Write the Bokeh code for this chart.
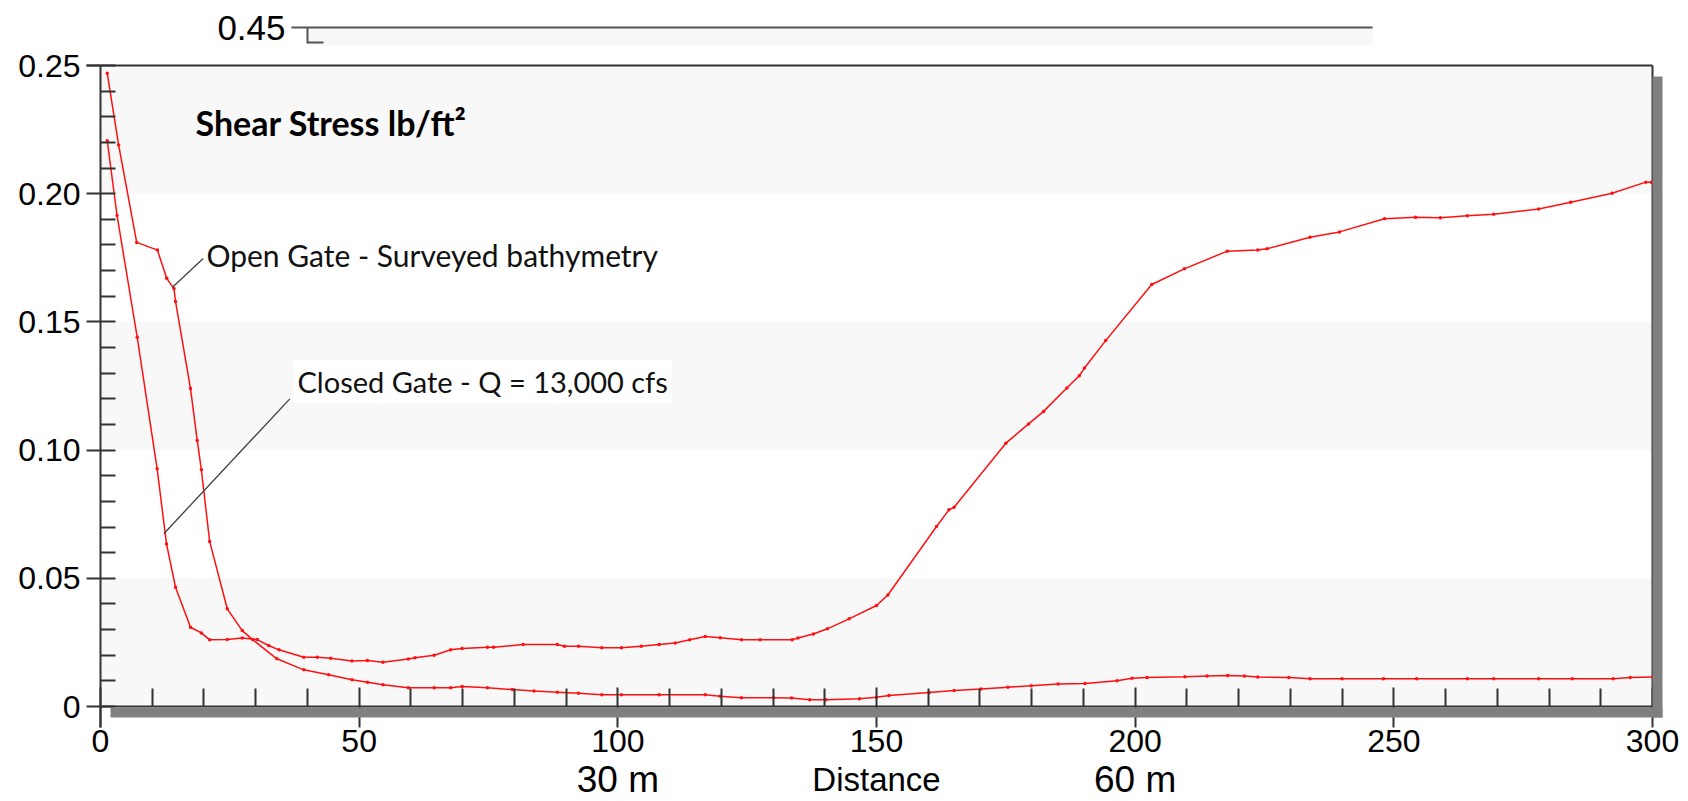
from bokeh.plotting import figure
from bokeh.models import FixedTicker, Label, BoxAnnotation, Range1d, LinearAxis
from bokeh.embed import file_html
from bokeh.resources import INLINE

# ---------------- data ----------------
OPEN_X = [1.3, 3.5, 7.0, 11.0, 12.8, 14.2, 14.5, 17.4, 18.7, 19.5, 21.1, 24.5, 27.4, 29.4,
          34.1, 39.3, 44.1, 48.6, 51.6, 54.6, 59.5, 64.5, 67.7, 69.9, 74.8, 79.6, 83.8,
          88.3, 92.4, 96.9, 100.7, 108.0, 116.9, 119.8, 123.9, 130.1, 133.6, 137.1, 140.2,
          146.7, 150.0, 152.4, 160.2, 165.0, 170.2, 175.4, 179.9, 185.1, 190.3, 196.5,
          199.4, 202.3, 209.6, 213.9, 217.9, 221.1, 223.7, 229.7, 233.8, 240.0, 248.0,
          254.4, 264.2, 269.3, 278.0, 284.5, 292.4, 295.7, 300.0]
OPEN_Y = [0.247, 0.219, 0.181, 0.178, 0.167, 0.163, 0.158, 0.124, 0.1037, 0.0923, 0.0644,
          0.0381, 0.0296, 0.0261, 0.0186, 0.0143, 0.0124, 0.0104, 0.0095, 0.0085, 0.0073,
          0.0073, 0.0073, 0.0078, 0.0073, 0.0066, 0.0060, 0.0056, 0.0052, 0.0046, 0.0046,
          0.0046, 0.0046, 0.0040, 0.0034, 0.0034, 0.0033, 0.0026, 0.0026, 0.0030, 0.0036,
          0.0043, 0.0055, 0.0062, 0.0068, 0.0075, 0.0081, 0.0088, 0.0090, 0.0100, 0.0110,
          0.0113, 0.0116, 0.0119, 0.0121, 0.0119, 0.0115, 0.0113, 0.0108, 0.0108, 0.0108,
          0.0108, 0.0108, 0.0108, 0.0108, 0.0108, 0.0108, 0.0113, 0.0115]

CLOSED_X = [1.3, 3.2, 7.1, 10.95, 12.76, 14.5, 17.4, 19.5, 21.1, 24.5, 27.4, 30.3, 32.5,
            34.5, 39.3, 41.9, 44.5, 48.6, 51.6, 54.6, 59.5, 60.8, 64.5, 67.7, 69.9, 74.8,
            76.0, 81.7, 88.3, 89.7, 92.4, 96.9, 100.7, 104.5, 108.0, 111.1, 113.9, 116.9,
            119.8, 123.9, 127.5, 133.7, 134.8, 137.8, 140.5, 144.7, 150.0, 152.2, 161.6,
            164.0, 165.0, 175.0, 179.4, 182.3, 186.8, 189.2, 190.2, 194.3, 203.2, 209.5,
            217.8, 223.7, 225.5, 233.8, 239.5, 248.2, 254.2, 259.0, 264.2, 269.3, 278.0,
            284.2, 292.2, 298.7, 299.8]
CLOSED_Y = [0.2207, 0.1915, 0.144, 0.0927, 0.0634, 0.0465, 0.0309, 0.0287, 0.0260, 0.0261,
            0.0267, 0.0261, 0.0238, 0.0221, 0.0192, 0.0192, 0.0188, 0.0177, 0.0179, 0.0173,
            0.0185, 0.0190, 0.0200, 0.0221, 0.0226, 0.0231, 0.0231, 0.0242, 0.0242, 0.0235,
            0.0235, 0.0229, 0.0229, 0.0235, 0.0242, 0.0248, 0.0260, 0.0273, 0.0268, 0.0260,
            0.0260, 0.0260, 0.0267, 0.0283, 0.0303, 0.0342, 0.0394, 0.0435, 0.0702, 0.0767,
            0.0777, 0.1027, 0.1102, 0.1151, 0.1242, 0.1290, 0.1320, 0.1427, 0.1646, 0.1707,
            0.1776, 0.1780, 0.1785, 0.1830, 0.1851, 0.1902, 0.1908, 0.1906, 0.1914, 0.1920,
            0.1940, 0.1967, 0.2002, 0.2045, 0.2045]

X_TICKS = [0, 50, 100, 150, 200, 250, 300]
X_TICK_LABELS = ["0", "50", "100", "150", "200", "250", "300"]
X_MINOR = [v for v in range(10, 300, 10) if v % 50]
Y_TICKS = [0, 0.05, 0.10, 0.15, 0.20, 0.25]
Y_TICK_LABELS = ["0", "0.05", "0.10", "0.15", "0.20", "0.25"]
Y_MINOR = [round(i * 0.01, 2) for i in range(1, 25) if i % 5]

TOP_TICK_LABEL = "0.45"

TITLE = "Shear Stress lb/ft²"
OPEN_LABEL = "Open Gate - Surveyed bathymetry"
CLOSED_LABEL = "Closed Gate - Q = 13,000 cfs"
OPEN_LEADER_X = [19.85, 13.86]
OPEN_LEADER_Y = [0.1747, 0.1634]
CLOSED_LEADER_X = [36.6, 12.24]
CLOSED_LEADER_Y = [0.1200, 0.0674]
BOTTOM_LABEL_X = [100, 150, 200]
BOTTOM_LABELS = ["30 m", "Distance", "60 m"]

X_MAX = 300
Y_MAX = 0.25

# ---------------- geometry ----------------
W, H = 1688, 801
LEFT = 100                 # pixel column of x = 0
ZERO_ROW = 706             # pixel row of y = 0
PX_X = 1552 / 300.0        # pixels per x unit
PX_Y = 641 / 0.25          # pixels per y unit


def dx(px):                # pixel offset -> x units
    return px / PX_X


def dy(px):                # pixel offset -> y units
    return px / PX_Y


def row(py):               # pixel row -> y value
    return (ZERO_ROW - py) / PX_Y


def col(px):               # pixel column -> x value
    return (px - LEFT) / PX_X


RED = "#ff1010"
AX = "#333333"
FONT = "Liberation Sans"

p = figure(width=W, height=H, title=None, output_backend="svg", toolbar_location=None,
           x_range=Range1d(col(0), col(W)), y_range=Range1d(row(H), row(0)),
           x_axis_location=None, y_axis_location=None,
           min_border_left=0, min_border_right=0, min_border_top=0, min_border_bottom=0)
p.outline_line_color = None
p.background_fill_color = "white"
p.border_fill_color = "white"
p.grid.visible = False

# alternating background bands
for lo, hi in zip(Y_TICKS[0::2], Y_TICKS[1::2]):
    p.add_layout(BoxAnnotation(left=0, right=X_MAX, bottom=lo, top=hi, fill_color="#f8f8f8",
                               fill_alpha=1, line_color=None, level="underlay"))

# ---- axes ----
xa = LinearAxis(fixed_location=0, bounds=(0, X_MAX))
p.add_layout(xa, "below")
xa.ticker = FixedTicker(ticks=X_TICKS, minor_ticks=X_MINOR)
xa.major_label_overrides = dict(zip(X_TICKS, X_TICK_LABELS))
xa.axis_line_color = AX
xa.axis_line_width = 2
xa.major_tick_in = 19
xa.major_tick_out = 21
xa.major_tick_line_color = AX
xa.major_tick_line_width = 2
xa.minor_tick_in = 18
xa.minor_tick_out = 0
xa.minor_tick_line_color = AX
xa.minor_tick_line_width = 2
xa.major_label_text_font = FONT
xa.major_label_text_font_size = "32px"
xa.major_label_text_color = "black"
xa.major_label_standoff = 2

yb = LinearAxis(fixed_location=0, bounds=(-dy(21), Y_MAX))
p.add_layout(yb, "left")
yb.ticker = FixedTicker(ticks=Y_TICKS, minor_ticks=Y_MINOR)
yb.major_label_overrides = dict(zip(Y_TICKS, Y_TICK_LABELS))
yb.axis_line_color = AX
yb.axis_line_width = 2
yb.major_tick_in = 15
yb.major_tick_out = 14
yb.major_tick_line_color = AX
yb.major_tick_line_width = 2
yb.minor_tick_in = 15
yb.minor_tick_out = 0
yb.minor_tick_line_color = AX
yb.minor_tick_line_width = 2
yb.major_label_text_font = FONT
yb.major_label_text_font_size = "32px"
yb.major_label_text_color = "black"
yb.major_label_standoff = 6

# ---- cut-off fragment of the panel above (its 0.45 tick) ----
frag_y = row(27)
fx0 = col(307)
fx1 = col(1372)
p.add_layout(BoxAnnotation(left=fx0, right=fx1, top=frag_y, bottom=frag_y - dy(18),
                           fill_color="#f8f8f8", fill_alpha=1, line_color=None, level="underlay"))
p.segment(x0=[fx0 - dx(16), fx0, fx0], y0=[frag_y, frag_y, frag_y - dy(15)],
          x1=[fx1, fx0, fx0 + dx(16)], y1=[frag_y, frag_y - dy(16), frag_y - dy(15)],
          line_color="#555555", line_width=2)
p.add_layout(Label(x=fx0 - dx(22), y=frag_y, text=TOP_TICK_LABEL, text_font=FONT,
                   text_font_size="35px", text_color="black", text_align="right",
                   text_baseline="middle"))

# ---- drop shadows ----
p.add_layout(BoxAnnotation(left=X_MAX, right=X_MAX + dx(10), top=Y_MAX - dy(11),
                           bottom=-dy(11), fill_color="#808080", fill_alpha=1, line_color=None))
p.add_layout(BoxAnnotation(left=dx(10), right=X_MAX + dx(10), top=-dy(1), bottom=-dy(11),
                           fill_color="#808080", fill_alpha=1, line_color=None))

# top and right borders of the frame
p.segment(x0=[0 - dx(14), X_MAX], y0=[Y_MAX, 0], x1=[X_MAX, X_MAX], y1=[Y_MAX, Y_MAX],
          line_color=AX, line_width=2)

# ---- curves ----
p.line(OPEN_X, OPEN_Y, line_color=RED, line_width=1.5)
p.scatter(OPEN_X, OPEN_Y, size=3.5, fill_color=RED, line_color=None)
p.line(CLOSED_X, CLOSED_Y, line_color=RED, line_width=1.5)
p.scatter(CLOSED_X, CLOSED_Y, size=3.5, fill_color=RED, line_color=None)

# leader lines
p.line(OPEN_LEADER_X, OPEN_LEADER_Y, line_color="#404040", line_width=1.3)
p.line(CLOSED_LEADER_X, CLOSED_LEADER_Y, line_color="#404040", line_width=1.3)

# ---- texts ----
p.add_layout(Label(x=col(195), y=row(122), text=TITLE, text_font="Lato",
                   text_font_style="bold", text_font_size="34px", text_color="black",
                   text_baseline="alphabetic"))
p.add_layout(Label(x=col(206), y=row(254), text=OPEN_LABEL, text_font="Lato",
                   text_font_size="30px", text_color="#111111", text_baseline="alphabetic"))
p.add_layout(Label(x=col(293), y=row(381), text=CLOSED_LABEL, text_font="Lato",
                   text_font_size="29px", text_color="#111111", text_baseline="alphabetic",
                   background_fill_color="white", background_fill_alpha=1, padding=4))

for bx, bt in zip(BOTTOM_LABEL_X, BOTTOM_LABELS):
    p.add_layout(Label(x=bx, y=row(779), text=bt, text_font=FONT,
                       text_font_size="33px" if bt == "Distance" else "37px",
                       text_color="black", text_align="center", text_baseline="alphabetic"))

open("out.html", "w").write(file_html(p, INLINE))
